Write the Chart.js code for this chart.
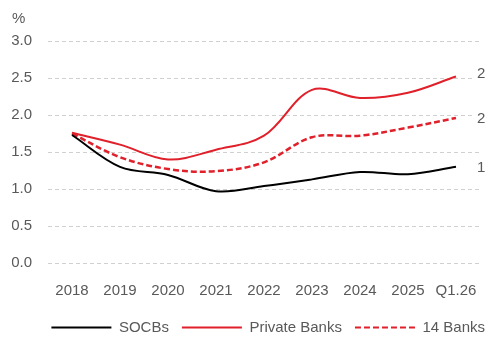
<!DOCTYPE html>
<html>
<head>
<meta charset="utf-8">
<script src="https://cdn.jsdelivr.net/npm/chart.js@4"></script>
<style>
  html, body { margin: 0; padding: 0; background: #fff; }
  #wrap { width: 486px; height: 337px; }
</style>
</head>
<body>
<div id="wrap"><canvas id="nplChart"></canvas></div>
<script>
const years = ['2018', '2019', '2020', '2021', '2022', '2023', '2024', '2025', 'Q1.26'];
const socbs = [1.73, 1.30, 1.19, 0.97, 1.04, 1.13, 1.23, 1.20, 1.30];
const privateBanks = [1.76, 1.60, 1.40, 1.53, 1.72, 2.34, 2.23, 2.30, 2.52];
const banks14 = [1.75, 1.43, 1.27, 1.24, 1.36, 1.70, 1.72, 1.83, 1.96];
const yTicks = [0, 0.5, 1.0, 1.5, 2.0, 2.5, 3.0];

const textColor = '#595959';
const red = '#E0202A';
const font = { family: '"Liberation Sans", Arial, sans-serif', size: 15, weight: 'normal' };

// value labels after the last point (cut off by the canvas edge, like the source)
const endLabels = {
    id: 'endLabels',
    afterDatasetsDraw: function(chart) {
        const ctx = chart.ctx;
        ctx.save();
        ctx.font = font.size + 'px ' + font.family;
        ctx.textAlign = 'left';
        ctx.textBaseline = 'middle';
        chart.data.datasets.forEach(function(ds, i) {
            const meta = chart.getDatasetMeta(i);
            const last = meta.data[meta.data.length - 1];
            const x = chart.chartArea.right - 3;
            const y = last.y + (i === 1 ? -3 : 1);
            ctx.fillStyle = '#fff';
            ctx.fillRect(x - 2, y - 9, 20, 18);
            ctx.fillStyle = textColor;
            ctx.fillText(ds.data[ds.data.length - 1].toFixed(1), x, y);
        });
        ctx.restore();
    }
};

// legend box is kept short for the layout, then moved to where the source has it
const legendShift = {
    id: 'legendShift',
    afterLayout: function(chart) {
        const lg = chart.legend;
        lg.left += 18; lg.right += 18;
        lg.top -= 12; lg.bottom = chart.height;
    }
};

new Chart(document.getElementById('nplChart'), {
    type: 'line',
    data: {
        labels: years,
        datasets: [{
            label: 'SOCBs',
            data: socbs,
            borderColor: '#000000',
            backgroundColor: '#000000',
            borderWidth: 2,
            pointRadius: 0,
            tension: 0.35
        }, {
            label: 'Private Banks',
            data: privateBanks,
            borderColor: red,
            backgroundColor: red,
            borderWidth: 2,
            pointRadius: 0,
            tension: 0.35
        }, {
            label: '14 Banks',
            data: banks14,
            borderColor: red,
            backgroundColor: red,
            borderWidth: 2.5,
            borderDash: [6, 3],
            pointRadius: 0,
            tension: 0.35
        }]
    },
    options: {
        responsive: true,
        maintainAspectRatio: false,
        animation: false,
        layout: { padding: { left: 12, right: 6, top: 0, bottom: 0 } },
        plugins: {
            title: {
                display: true,
                text: '%',
                align: 'start',
                color: textColor,
                font: font,
                padding: { top: 10, bottom: 13 }
            },
            legend: {
                position: 'bottom',
                align: 'end',
                maxHeight: 18,
                labels: {
                    color: textColor,
                    font: font,
                    usePointStyle: true,
                    pointStyle: 'line',
                    pointStyleWidth: 60,
                    boxWidth: 60,
                    boxHeight: 2,
                    padding: 13,
                    generateLabels: function(chart) {
                        const items = Chart.defaults.plugins.legend.labels.generateLabels(chart);
                        items.forEach(function(item, i) {
                            const ds = chart.data.datasets[i];
                            item.strokeStyle = ds.borderColor;
                            item.lineWidth = 2;
                            item.lineDash = ds.borderDash || [];
                        });
                        return items;
                    }
                }
            },
            tooltip: { enabled: false }
        },
        scales: {
            x: {
                offset: true,
                grid: { display: false, drawTicks: false },
                border: { display: false },
                ticks: {
                    color: textColor,
                    font: { family: font.family, size: 15, lineHeight: 3.6 },
                    padding: 1,
                    maxRotation: 0,
                    autoSkip: false
                },
                afterFit: function(axis) {
                    axis.paddingLeft = 0;
                    axis.paddingRight = 0;
                }
            },
            y: {
                min: 0,
                max: 3,
                afterBuildTicks: function(axis) {
                    axis.ticks = yTicks.map(function(v) { return { value: v }; });
                },
                afterFit: function(axis) { axis.width = 36; },
                grid: { color: '#D0D0D0', lineWidth: 1, drawTicks: false },
                border: { display: false, dash: [4, 3] },
                ticks: {
                    color: textColor,
                    font: font,
                    padding: 16,
                    callback: function(v) { return Number(v).toFixed(1); }
                }
            }
        }
    },
    plugins: [endLabels, legendShift]
});
</script>
</body>
</html>
